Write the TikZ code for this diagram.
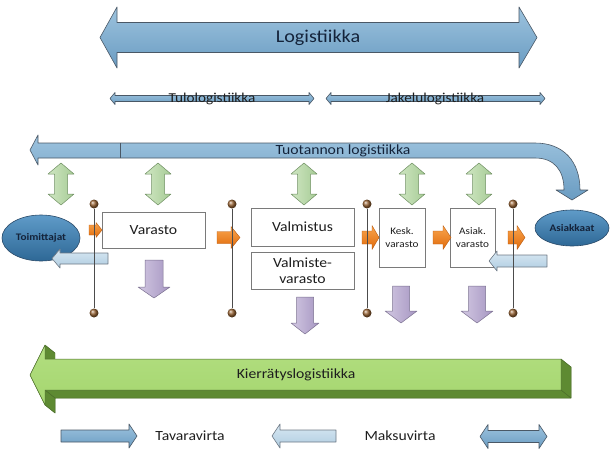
\documentclass[tikz,border=0pt]{standalone}
\usepackage{fontspec}
\setmainfont{Carlito}
\usepackage{graphicx}
\usetikzlibrary{shapes.geometric,shadows}

\definecolor{bluetop}{HTML}{9DC3DE}
\definecolor{bluebot}{HTML}{6A9CC2}
\definecolor{blueline}{HTML}{4A5866}
\definecolor{ltbluetop}{HTML}{D8E8F3}
\definecolor{ltbluebot}{HTML}{AFCCE0}
\definecolor{greentop}{HTML}{CFE6C2}
\definecolor{greenbot}{HTML}{A7CC96}
\definecolor{greenline}{HTML}{6F8F62}
\definecolor{purptop}{HTML}{D2C8E2}
\definecolor{purpbot}{HTML}{A696C2}
\definecolor{purpline}{HTML}{7B7090}
\definecolor{orgtop}{HTML}{F9A54E}
\definecolor{orgbot}{HTML}{E06A0A}
\definecolor{orgline}{HTML}{B85A10}
\definecolor{kfront}{HTML}{A5D66F}
\definecolor{kfronttop}{HTML}{B2DE80}
\definecolor{kdark}{HTML}{5E8A32}
\definecolor{kline}{HTML}{4A6A2A}
\definecolor{elltop}{HTML}{5F9BC8}
\definecolor{ellbot}{HTML}{2E6896}
\definecolor{ellline}{HTML}{2A4A68}
\definecolor{txtnavy}{HTML}{14233A}
\definecolor{txtdark}{HTML}{1E1E1E}
\definecolor{dotbrown}{HTML}{9A6535}
\definecolor{boxline}{HTML}{7A7A7A}

\newcommand\sx[1]{\scalebox{1.12}[1]{#1}}
\newcommand\myharrow[7]{\path[#1] (#2,{#5-#6}) -- (#3,{#5-#6}) -- (#3,{#5-#7}) -- (#4,#5) -- (#3,{#5+#7}) -- (#3,{#5+#6}) -- (#2,{#5+#6}) -- cycle;}
\newcommand\myhdarrow[8]{\path[#1] (#2,#6) -- (#3,{#6-#8}) -- (#3,{#6-#7}) -- (#4,{#6-#7}) -- (#4,{#6-#8}) -- (#5,#6) -- (#4,{#6+#8}) -- (#4,{#6+#7}) -- (#3,{#6+#7}) -- (#3,{#6+#8}) -- cycle;}
\newcommand\myvarrow[7]{\path[#1] ({#5-#6},#2) -- ({#5-#6},#3) -- ({#5-#7},#3) -- (#5,#4) -- ({#5+#7},#3) -- ({#5+#6},#3) -- ({#5+#6},#2) -- cycle;}
\newcommand\myvdarrow[8]{\path[#1] (#6,#2) -- ({#6+#8},#3) -- ({#6+#7},#3) -- ({#6+#7},#4) -- ({#6+#8},#4) -- (#6,#5) -- ({#6-#8},#4) -- ({#6-#7},#4) -- ({#6-#7},#3) -- ({#6-#8},#3) -- cycle;}

\tikzset{
  bluearrow/.style={top color=bluetop, bottom color=bluebot, draw=blueline, line width=0.6pt, line join=round},
  ltbluearrow/.style={top color=ltbluetop, bottom color=ltbluebot, draw=blueline!80, line width=0.6pt, line join=round},
  greenarrow/.style={left color=greentop, right color=greenbot, draw=greenline, line width=0.5pt, line join=round},
  purparrow/.style={left color=purptop, right color=purpbot, draw=purpline, line width=0.5pt, line join=round},
  orgarrow/.style={top color=orgtop, bottom color=orgbot, draw=orgline, line width=0.4pt, line join=round},
  lbl/.style={inner sep=0pt, text=txtdark, font=\fontsize{14}{16}\selectfont},
  boxnode/.style={draw=boxline, fill=white, line width=0.6pt, inner sep=0pt, align=center,
    text=txtdark, drop shadow={shadow xshift=1.2pt, shadow yshift=-1.2pt, opacity=0.35}},
  ellnode/.style={ellipse, draw=ellline, line width=0.6pt, top color=elltop, bottom color=ellbot,
    inner sep=0pt, text=txtnavy, font=\bfseries\fontsize{10}{12}\selectfont},
  vline/.style={draw=black!70, line width=0.6pt},
  dot/.style={circle, inner sep=0pt, minimum size=9pt, shading=ball, ball color=dotbrown}
}

\begin{document}
\begin{tikzpicture}[x=1pt,y=-1pt]
\useasboundingbox (0,0) rectangle (615,452);

% ---------- Logistiikka ----------
\myhdarrow{bluearrow}{100}{117}{519}{537}{37.5}{15}{30.5}
\node[lbl, text=txtnavy, font=\fontsize{18}{20}\selectfont] (logi) at (318,37.5) {\sx{Logistiikka}};

% ---------- Tulo / Jakelu ----------
\myhdarrow{bluearrow}{110}{115}{309}{314}{98.5}{3}{6}
\myhdarrow{bluearrow}{326}{331}{540}{545}{98.5}{3}{6}
\node[lbl, font=\fontsize{13.6}{15}\selectfont] (tulo) at (212,98.5) {\sx{Tulologistiikka}};
\node[lbl, font=\fontsize{13.6}{15}\selectfont] (jakelu) at (435,98.5) {\sx{Jakelulogistiikka}};

% ---------- Tuotannon logistiikka ----------
\path[bluearrow] (30,150) -- (38,135) -- (38,143) -- (535,143)
  .. controls (564,143) and (580,162) .. (580,190)
  -- (588,190) -- (572,200) -- (556,190) -- (564,190)
  .. controls (564,170) and (554,158) .. (535,158)
  -- (38,158) -- (38,165) -- cycle;
\draw[blueline, line width=0.6pt] (120,143) -- (120,158);
\node[lbl, text=txtnavy, font=\fontsize{14}{16}\selectfont] (tuot) at (343,150.5) {\sx{Tuotannon logistiikka}};

% ---------- green double arrows ----------
\foreach \gx in {61,158,304,412,479} {
  \myvdarrow{greenarrow}{163}{174}{194}{205}{\gx}{6.5}{13}
}

% ---------- purple arrows ----------
\myvarrow{purparrow}{260}{287}{298}{154}{9}{16}
\myvarrow{purparrow}{297}{323}{334}{305}{8.5}{14}
\myvarrow{purparrow}{286}{311}{323}{401}{8.5}{16}
\myvarrow{purparrow}{286}{311}{323}{477}{8.5}{16}

% ---------- boxes ----------
\node[boxnode, minimum width=103pt, minimum height=36pt, font=\fontsize{14}{16}\selectfont] (varasto) at (153.5,230) {\sx{Varasto}};
\node[boxnode, minimum width=103pt, minimum height=38pt, font=\fontsize{14}{16}\selectfont] (valmistus) at (302.5,227) {\sx{Valmistus}};
\node[boxnode, minimum width=103pt, minimum height=37pt, font=\fontsize{14}{16}\selectfont] (valmvar) at (302.5,270.5) {\sx{Valmiste-}\\\sx{varasto}};
\node[boxnode, minimum width=46pt, minimum height=59pt, font=\fontsize{10}{13}\selectfont] (kesk) at (402,237.5) {\sx{Kesk.}\\\sx{varasto}};
\node[boxnode, minimum width=45pt, minimum height=59pt, font=\fontsize{10}{13}\selectfont] (asiak) at (472.5,237.5) {\sx{Asiak.}\\\sx{varasto}};

% ---------- ellipses ----------
\node[ellnode, minimum width=78pt, minimum height=46pt] (toim) at (41,238) {\sx{Toimittajat}};
\node[ellnode, minimum width=74pt, minimum height=36pt] (asiakk) at (572,228) {\sx{Asiakkaat}};

% ---------- light blue (payment) arrows ----------
\myharrow{ltbluearrow}{108}{60}{52}{258.5}{5.5}{9.5}
\myharrow{ltbluearrow}{547}{497}{489}{261}{6}{10}

% ---------- orange arrows ----------
\myharrow{orgarrow}{89}{96}{102}{230}{5}{7.5}
\myharrow{orgarrow}{217}{231}{240}{237.5}{6}{11}
\myharrow{orgarrow}{362}{372}{379}{237.5}{6.5}{12}
\myharrow{orgarrow}{433}{443}{451}{237.5}{6.5}{12}
\myharrow{orgarrow}{508}{517}{525}{237.5}{6.5}{12}

% ---------- vertical lines with dots ----------
\foreach \lx/\nm in {94/a,232/b,367/c,513/d} {
  \node[dot] (top\nm) at (\lx,204) {};
  \node[dot] (bot\nm) at (\lx,313) {};
  \draw[vline] (top\nm) -- (bot\nm);
}

% ---------- Kierratyslogistiikka (3D arrow) ----------
\fill[kdark] (40,383) -- (55,353) -- (55,367) -- (571,367) -- (571,398) -- (55,398) -- (55,413) -- cycle;
\foreach \ax/\ay/\bx/\by in {30/375/45/345, 45/345/45/359, 45/359/561/359, 561/359/561/390, 561/390/45/390, 45/390/45/405, 45/405/30/375} {
  \fill[kdark] (\ax,\ay) -- (\bx,\by) -- ({\bx+10},{\by+8}) -- ({\ax+10},{\ay+8}) -- cycle;
}
\draw[kline, line width=0.5pt, line join=round] (45,345) -- (55,353) (561,359) -- (571,367) -- (571,398) -- (561,390)
  (571,398) -- (55,398) -- (55,413) -- (45,405) (55,398) -- (45,390);
\path[top color=kfronttop, bottom color=kfront, draw=kline, line width=0.5pt, line join=round]
  (30,375) -- (45,345) -- (45,359) -- (561,359) -- (561,390) -- (45,390) -- (45,405) -- cycle;
\node[lbl] (kierr) at (296,375) {\sx{Kierrätyslogistiikka}};

% ---------- legend ----------
\myharrow{bluearrow}{61}{129}{137}{436}{6}{12}
\node[lbl] (tava) at (190,436) {\sx{Tavaravirta}};
\myharrow{ltbluearrow}{336}{280}{272}{436}{6}{12}
\node[lbl] (maksu) at (400,436) {\sx{Maksuvirta}};
\myhdarrow{bluearrow}{480}{488}{539}{547}{436.5}{6}{12}
\end{tikzpicture}
\end{document}
